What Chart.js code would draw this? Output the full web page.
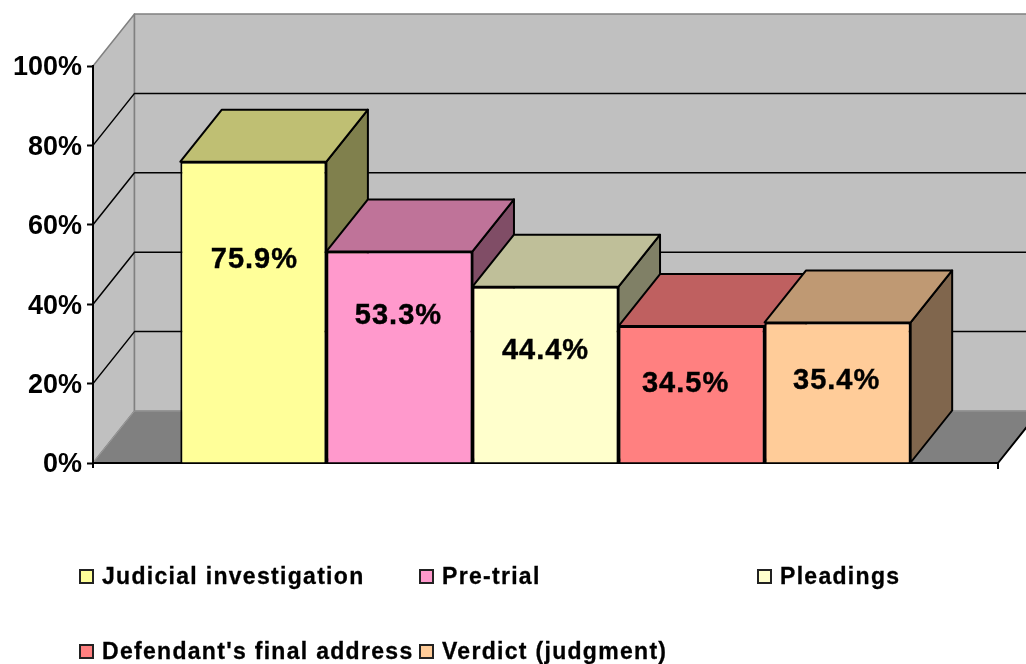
<!DOCTYPE html>
<html>
<head>
<meta charset="utf-8">
<title>Chart</title>
<script src="https://cdn.jsdelivr.net/npm/chart.js@4"></script>
<style>
html, body { margin: 0; padding: 0; background: #fff; overflow: hidden; }
#wrap { position: relative; width: 1026px; height: 664px; }
#mychart { display: block; }
#legend {
    position: absolute; left: 79px; top: 558px;
    display: grid; grid-template-columns: 340px 338px auto; grid-auto-rows: 75px;
    font: bold 23px "Liberation Sans", Arial, sans-serif; letter-spacing: 1.3px; color: #000;
    -webkit-text-stroke: 0.3px #000;
}
.item { display: flex; align-items: center; height: 37px; white-space: nowrap; }
.swatch { width: 11px; height: 11px; border: 2px solid #222; margin-right: 8px; flex: none; }
</style>
</head>
<body>
<div id="wrap">
    <canvas id="mychart" width="1026" height="664"></canvas>
    <div id="legend"></div>
</div>
<script>
const categories = [''];
const seriesNames = ['Judicial investigation', 'Pre-trial', 'Pleadings', "Defendant's final address", 'Verdict (judgment)'];
const seriesValues = [75.9, 53.3, 44.4, 34.5, 35.4];
const tickValues = [0, 20, 40, 60, 80, 100];

const frontColors = ['#FFFF99', '#FF99CC', '#FFFFCC', '#FF8080', '#FFCC99'];
const topColors = ['#BFBF73', '#BF7399', '#BFBF99', '#BF6060', '#BF9973'];
const sideColors = ['#80804D', '#804D66', '#808066', '#804040', '#80664D'];

// fake 3d depth of the box, in pixels
const depthX = 41.5;
const depthY = 52;
// labels were moved by hand in the original, nudges from the middle of the bar
const labelLift = [52, 41, 24, 10, 11];
const labelShift = [1, -1, 0, -6, -1];

function poly(ctx, pts, fill, stroke, width) {
    ctx.beginPath();
    pts.forEach((p, i) => i ? ctx.lineTo(p[0], p[1]) : ctx.moveTo(p[0], p[1]));
    ctx.closePath();
    if (fill) {
        ctx.fillStyle = fill;
        ctx.fill();
    }
    if (stroke) {
        ctx.strokeStyle = stroke;
        ctx.lineWidth = width;
        ctx.lineJoin = 'round';
        ctx.stroke();
    }
}

const box3d = {
    id: 'box3d',
    // walls and floor go under the axes
    beforeDraw(chart) {
        const ctx = chart.ctx;
        const a = chart.chartArea;
        const yAxis = chart.scales.y;
        ctx.save();
        poly(ctx, [[a.left, a.top], [a.left + depthX, a.top - depthY], [a.left + depthX, a.bottom - depthY], [a.left, a.bottom]], '#C0C0C0', '#808080', 1.5);
        poly(ctx, [[a.left + depthX, a.top - depthY], [a.right + depthX, a.top - depthY], [a.right + depthX, a.bottom - depthY], [a.left + depthX, a.bottom - depthY]], '#C0C0C0', '#808080', 1.5);
        poly(ctx, [[a.left, a.bottom], [a.left + depthX, a.bottom - depthY], [a.right + depthX, a.bottom - depthY], [a.right, a.bottom]], '#808080', '#9A9A9A', 1);

        ctx.strokeStyle = '#000';
        ctx.lineWidth = 1.5;
        tickValues.slice(1, -1).forEach(v => {
            const y = yAxis.getPixelForValue(v);
            ctx.beginPath();
            ctx.moveTo(a.left, y);
            ctx.lineTo(a.left + depthX, y - depthY);
            ctx.lineTo(a.right + depthX, y - depthY);
            ctx.stroke();
        });

        // right edge of the floor and the two end ticks of the x axis
        ctx.lineWidth = 2;
        ctx.beginPath();
        ctx.moveTo(a.right, a.bottom);
        ctx.lineTo(a.right + depthX, a.bottom - depthY);
        ctx.moveTo(a.left, a.bottom);
        ctx.lineTo(a.left, a.bottom + 5);
        ctx.moveTo(a.right, a.bottom);
        ctx.lineTo(a.right, a.bottom + 6);
        ctx.stroke();
        ctx.restore();
    },
    // the boxes overlap, so paint them left to right instead of the default last-first
    beforeDatasetsDraw(chart) {
        const ctx = chart.ctx;
        seriesNames.forEach((name, i) => {
            const meta = chart.getDatasetMeta(i);
            const bar = meta.data[0];
            const half = bar.width / 2;
            const l = bar.x - half;
            const r = bar.x + half;
            const t = bar.y;
            const b = bar.base;
            ctx.save();
            poly(ctx, [[r, t], [r + depthX, t - depthY], [r + depthX, b - depthY], [r, b]], sideColors[i], '#000', 2);
            poly(ctx, [[l, t], [l + depthX, t - depthY], [r + depthX, t - depthY], [r, t]], topColors[i], '#000', 2);
            ctx.restore();
            meta.controller.draw();
        });
        return false;
    },
    afterDraw(chart) {
        const ctx = chart.ctx;
        ctx.save();
        ctx.font = 'bold 29px "Liberation Sans", Arial, sans-serif';
        ctx.letterSpacing = '1px';
        ctx.fillStyle = '#000';
        ctx.strokeStyle = '#000';
        ctx.lineWidth = 0.4;
        ctx.textAlign = 'center';
        ctx.textBaseline = 'middle';
        seriesValues.forEach((v, i) => {
            const bar = chart.getDatasetMeta(i).data[0];
            const x = bar.x + labelShift[i];
            const y = (bar.y + bar.base) / 2 - labelLift[i];
            ctx.fillText(v.toFixed(1) + '%', x, y);
            ctx.strokeText(v.toFixed(1) + '%', x, y);
        });
        ctx.restore();
    }
};

const ctx = document.getElementById('mychart').getContext('2d');
const myChart = new Chart(ctx, {
    type: 'bar',
    data: {
        labels: categories,
        datasets: seriesNames.map((name, i) => ({
            label: name,
            data: [seriesValues[i]],
            backgroundColor: frontColors[i],
            borderColor: '#000',
            borderWidth: 2
        }))
    },
    options: {
        responsive: false,
        animation: false,
        layout: { padding: { top: 66, right: 28, bottom: 201, left: 0 } },
        plugins: { legend: { display: false }, tooltip: { enabled: false } },
        datasets: { bar: { barPercentage: 1, categoryPercentage: 0.807 } },
        scales: {
            x: {
                ticks: { display: false },
                grid: { display: false },
                border: { color: '#000', width: 2 },
                afterFit(scale) { scale.height = 0; }
            },
            y: {
                min: 0,
                max: 100,
                afterFit(scale) { scale.width = 93; },
                afterBuildTicks(scale) { scale.ticks = tickValues.map(v => ({ value: v })); },
                ticks: {
                    color: '#000',
                    padding: 5,
                    labelOffset: 2,
                    font: { family: '"Liberation Sans", Arial, sans-serif', size: 27, weight: 'bold' },
                    callback: v => v + '%'
                },
                grid: { drawOnChartArea: false, tickLength: 6, tickColor: '#000', tickWidth: 2 },
                border: { color: '#000', width: 2 }
            }
        }
    },
    plugins: [box3d]
});

// legend is a plain html grid, the original columns are uneven
const legendBox = document.getElementById('legend');
seriesNames.forEach((name, i) => {
    const item = document.createElement('div');
    item.className = 'item';
    const swatch = document.createElement('span');
    swatch.className = 'swatch';
    swatch.style.background = frontColors[i];
    const text = document.createElement('span');
    text.textContent = name;
    item.appendChild(swatch);
    item.appendChild(text);
    legendBox.appendChild(item);
});
</script>
</body>
</html>
